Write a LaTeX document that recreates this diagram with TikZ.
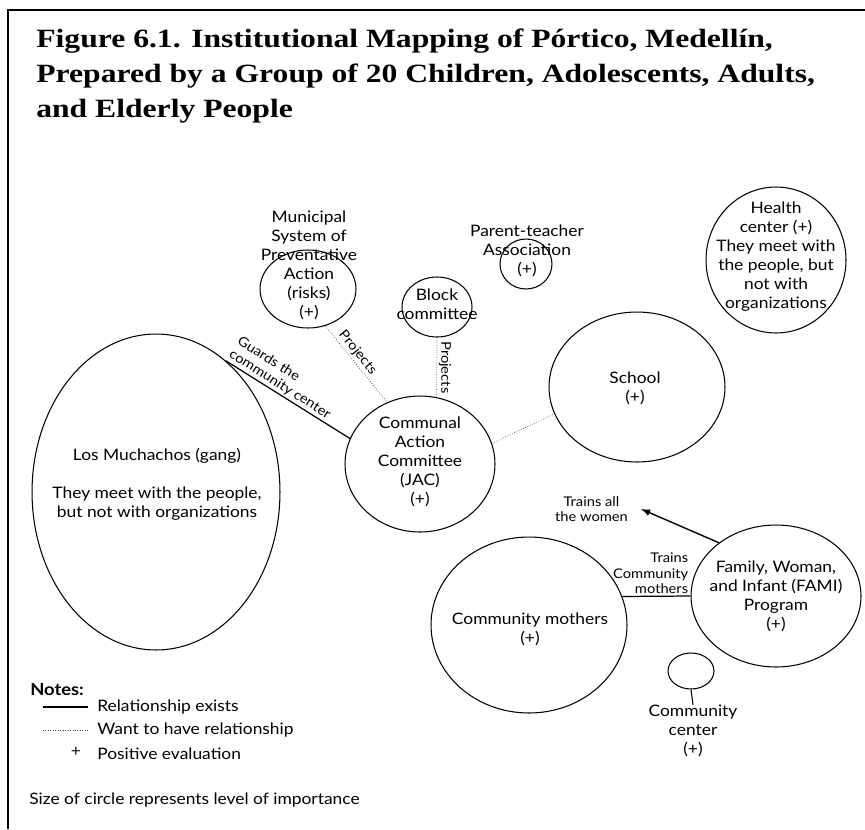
\documentclass[tikz,border=0pt]{standalone}
\usepackage{fontspec}
\setmainfont{Liberation Serif}
\newfontfamily\ttlfont{Liberation Serif}[FakeStretch=1.2]
\newfontfamily\gill{Lato}[FakeStretch=1.1]
\usetikzlibrary{shapes,arrows,positioning,calc}

\begin{document}
\begin{tikzpicture}[
    x=0.02cm, y=-0.02cm,
    ent/.style={ellipse, draw, line width=0.6pt, inner sep=0pt},
    txt/.style={font=\gill\fontsize{9}{10.8}\selectfont, align=center, inner sep=0pt},
    lbl/.style={font=\gill\fontsize{7.6}{8.8}\selectfont, text=black, inner sep=1pt},
    ttl/.style={font=\ttlfont\bfseries\fontsize{15}{18}\selectfont, anchor=base west, inner sep=0pt},
    rel/.style={line width=0.7pt},
    want/.style={black!75, line width=0.4pt, densely dotted},
    arrow/.style={->, >=latex, line width=0.8pt}
]
\useasboundingbox (0,0) rectangle (865,829);
\draw[line width=1.2pt] (8,829) -- (8,10) -- (865,10);

% title
\node[ttl] (t1) at (36,47) {Figure 6.1. Institutional Mapping of Pórtico, Medellín,};
\node[ttl] (t2) at (36,82) {Prepared by a Group of 20 Children, Adolescents, Adults,};
\node[ttl] (t3) at (36,117) {and Elderly People};

% institutions
\node[ent, minimum width=4.96cm, minimum height=6.32cm] (lm) at (156,492) {};
\node[txt] at (157,484) {Los Muchachos (gang)\\[10.8pt]They meet with the people,\\but not with organizations};

\node[ent, minimum width=1.92cm, minimum height=1.56cm] (mun) at (308,289) {};
\node[txt] at (309,265) {Municipal\\System of\\Preventative\\Action\\(risks)\\(+)};

\node[ent, minimum width=1.40cm, minimum height=1.20cm] (blk) at (437,307) {};
\node[txt] at (437,304) {Block\\committee};

\node[ent, minimum width=1.04cm, minimum height=1.00cm] (pta) at (526,264) {};
\node[txt] at (527,251) {Parent-teacher\\Association\\(+)};

\node[ent, minimum width=2.80cm, minimum height=2.92cm] (hlt) at (776,260) {};
\node[txt] at (776,257) {Health\\center (+)\\They meet with\\the people, but\\not with\\organizations};

\node[ent, minimum width=3.52cm, minimum height=3.00cm] (sch) at (637,387) {};
\node[txt] at (635,388) {School\\(+)};

\node[ent, minimum width=3.00cm, minimum height=2.72cm] (jac) at (420,464) {};
\node[txt] at (420,462) {Communal\\Action\\Committee\\(JAC)\\(+)};

\node[ent, minimum width=3.92cm, minimum height=3.52cm] (cm) at (529,625) {};
\node[txt] at (530,629) {Community mothers\\(+)};

\node[ent, minimum width=3.40cm, minimum height=2.84cm] (fami) at (776,596) {};
\node[txt] at (776,596) {Family, Woman,\\and Infant (FAMI)\\Program\\(+)};

\node[ent, minimum width=0.92cm, minimum height=0.72cm] (cc) at (691,671) {};
\node[txt] (cctxt) at (693,731) {Community\\center\\(+)};
\draw[line width=0.6pt] (cc.south) -- (cctxt.north);

% relationships
\draw[rel] (lm.62) -- node[lbl, sloped, above, pos=0.4, align=left] {Guards the\\community center} (jac.160);
\draw[want] (mun.-65) -- node[lbl, sloped, above, pos=0.42] {Projects} (jac.118);
\draw[want] (blk.south) -- node[lbl, pos=0.5, rotate=-90, anchor=south] {Projects} (jac.76.5);
\draw[want] (jac.16) -- (sch.198);
\draw[rel] (cm.17) -- node[lbl, pos=1, anchor=south east, align=right] {Trains\\Community\\mothers} (fami.west);
\node[lbl, anchor=east, align=center] (wom) at (630,509) {Trains all\\the women};
\draw[arrow] (fami.137) -- ([xshift=0.22cm]wom.east);

% notes
\node[font=\gill\bfseries\fontsize{9.5}{11}\selectfont, anchor=west, inner sep=0pt] (notes) at (30,690) {Notes:};
\node[txt, anchor=west] (lgrel) at (97,707) {Relationship exists};
\draw[rel] ([xshift=-0.18cm]lgrel.west) -- ++(-45,0);
\node[txt, anchor=west] (lgwant) at (97,730) {Want to have relationship};
\draw[want] ([xshift=-0.18cm]lgwant.west) -- ++(-45,0);
\node[txt, anchor=west] (lgpos) at (97,754) {Positive evaluation};
\node[txt] (plus) at (76,752) {+};
\node[txt, anchor=west] (size) at (29,800) {Size of circle represents level of importance};
\end{tikzpicture}
\end{document}
